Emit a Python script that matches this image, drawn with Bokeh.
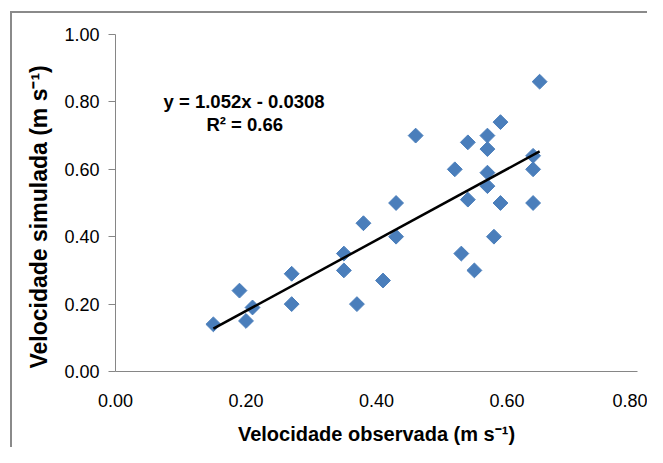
from bokeh.plotting import figure
from bokeh.models import Range1d, FixedTicker, NumeralTickFormatter, Label, Title, ColumnDataSource
from bokeh.embed import file_html
from bokeh.resources import INLINE
import numpy as np

# data
observada = [0.15, 0.19, 0.20, 0.21, 0.27, 0.27, 0.35, 0.35, 0.37, 0.38,
             0.41, 0.43, 0.43, 0.46, 0.52, 0.53, 0.54, 0.54, 0.55, 0.57,
             0.57, 0.57, 0.57, 0.58, 0.59, 0.59, 0.64, 0.64, 0.64, 0.65]
simulada = [0.14, 0.24, 0.15, 0.19, 0.29, 0.20, 0.35, 0.30, 0.20, 0.44,
            0.27, 0.50, 0.40, 0.70, 0.60, 0.35, 0.68, 0.51, 0.30, 0.70,
            0.66, 0.59, 0.55, 0.40, 0.74, 0.50, 0.64, 0.60, 0.50, 0.86]
slope = 1.052
intercept = -0.0308
r2 = 0.66
x_ticks = [0.0, 0.2, 0.4, 0.6, 0.8]
y_ticks = [0.0, 0.2, 0.4, 0.6, 0.8, 1.0]

FONT = "Liberation Sans"
AXIS_GREY = "#868686"
BORDER = "#8a8a8a"

p = figure(width=647, height=447, output_backend="svg", toolbar_location=None,
           x_range=Range1d(0, 0.8), y_range=Range1d(0, 1.0),
           min_border_left=115, min_border_right=10, min_border_top=34, min_border_bottom=74)
p.outline_line_color = None
p.grid.visible = False
p.background_fill_color = "white"
p.border_fill_color = "white"
p.border_fill_alpha = 0
# outer chart border (left and top edges of the chart area)
p.styles = {
    "background-color": "white",
    "background-image": f"linear-gradient({BORDER},{BORDER}), linear-gradient({BORDER},{BORDER})",
    "background-size": "2px 100%, 100% 2px",
    "background-position": "10px 11px, 10px 11px",
    "background-repeat": "no-repeat",
}

src = ColumnDataSource(dict(x=observada, y=simulada))
p.scatter("x", "y", source=src, marker="square", angle=np.pi / 4, size=10.5,
          fill_color="#4A7EBB", line_color="#4A7EBB")

xl = np.array([min(observada), max(observada)])
p.line(xl, slope * xl + intercept, line_color="black", line_width=2.5)

p.add_layout(Label(x=0.197, y=0.802, text=f"y = {slope:.3f}x - {abs(intercept):.4f}",
                   text_align="center", text_baseline="middle", text_font=FONT,
                   text_font_style="bold", text_font_size="18.5px", text_color="black"))
p.add_layout(Label(x=0.198, y=0.732, text=f"R² = {r2:.2f}",
                   text_align="center", text_baseline="middle", text_font=FONT,
                   text_font_style="bold", text_font_size="18.5px", text_color="black"))

for ax in (p.xaxis[0], p.yaxis[0]):
    ax.axis_line_color = AXIS_GREY
    ax.axis_line_width = 1
    ax.major_tick_line_color = AXIS_GREY
    ax.minor_tick_line_color = None
    ax.major_tick_in = 0
    ax.major_label_text_font = FONT
    ax.major_label_text_font_size = "18px"
    ax.major_label_text_color = "black"
    ax.axis_label_text_font = FONT
    ax.axis_label_text_font_style = "bold"
    ax.axis_label_text_color = "black"
    ax.formatter = NumeralTickFormatter(format="0.00")

p.xaxis.ticker = FixedTicker(ticks=x_ticks)
p.yaxis.ticker = FixedTicker(ticks=y_ticks)
p.xaxis.major_tick_out = 0
p.xaxis.major_label_standoff = 22
p.yaxis.major_tick_out = 7
p.yaxis.major_label_standoff = 9

p.xaxis.axis_label = "Velocidade observada (m s⁻¹)"
p.xaxis.axis_label_text_font_size = "20px"
p.xaxis.axis_label_standoff = 13

# y axis title, placed as in the reference (slightly below the frame centre)
p.add_layout(Title(text="Velocidade simulada (m s⁻¹)", align="left", offset=3,
                   standoff=20, text_font=FONT, text_font_style="bold",
                   text_font_size="23px", text_color="black"), "left")

open("out.html", "w").write(file_html(p, INLINE))
